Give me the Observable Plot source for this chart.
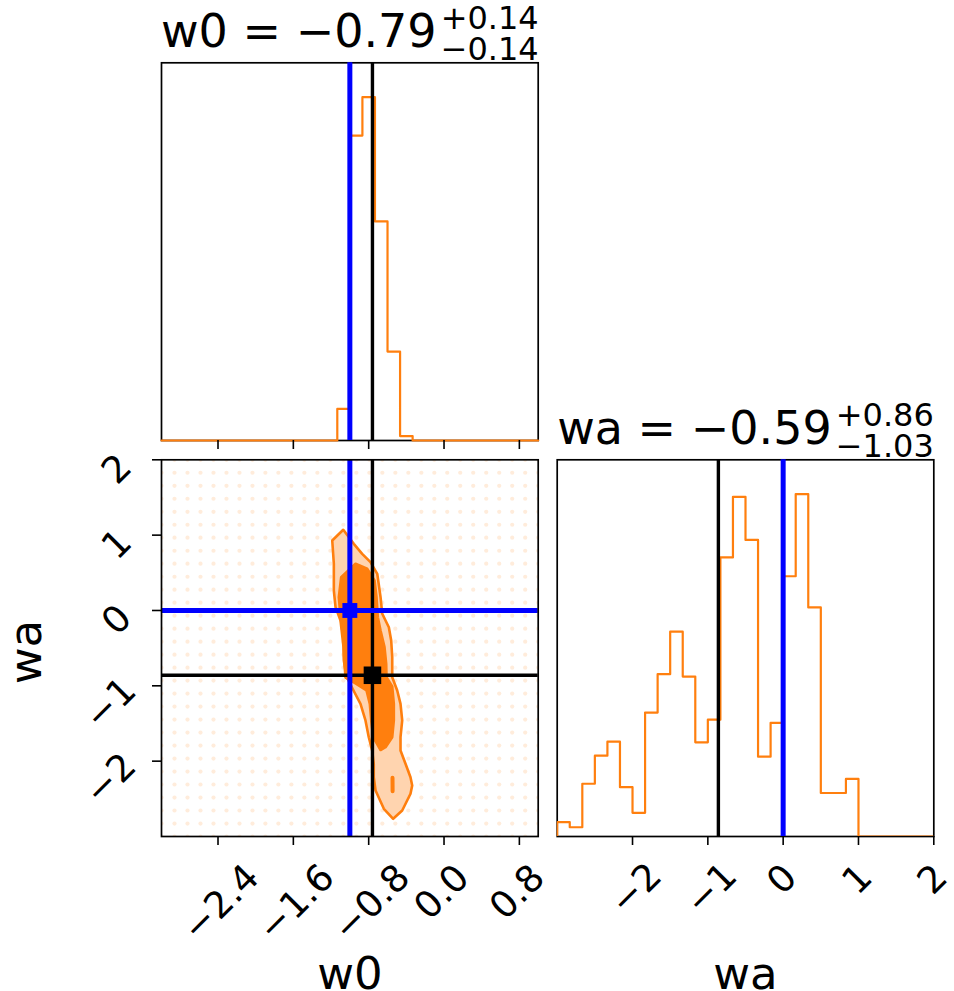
<!DOCTYPE html>
<html>
<head>
<meta charset="utf-8">
<script src="https://cdn.jsdelivr.net/npm/d3@7"></script>
<script src="https://cdn.jsdelivr.net/npm/@observablehq/plot@0.6"></script>
<style>
  body { margin: 0; background: #fff; }
  #chart { position: relative; width: 954px; height: 991px; overflow: hidden; background: #fff; }
  #chart svg { position: absolute; left: 0; top: 0; }
</style>
</head>
<body>
<div id="chart"></div>
<script>
// ---------------- data ----------------
const w0Ticks = [-2.4, -1.6, -0.8, 0.0, 0.8];
const w0TickLabels = ["−2.4", "−1.6", "−0.8", "0.0", "0.8"];
const waTicks = [-2, -1, 0, 1, 2];
const waTickLabels = ["−2", "−1", "0", "1", "2"];
const w0Range = [-3, 1];
const waRange = [-3, 2];
const binCount = 30;

// histogram heights (relative counts per bin)
const w0Counts = [0,0,0,0,0,0,0,0,0,0,0,0,0,0, 9.2, 88.8, 100, 63.8, 25.9, 1.3, 0,0,0,0,0,0,0,0,0,0];
const waCounts = [4.2, 2.7, 15.4, 23.6, 27.7, 14.4, 6.9, 36.2, 47.4, 59.8, 46.7, 27.5, 34.1, 81.5, 99.2,
                  86.6, 23.3, 33.2, 76.0, 100, 66.9, 12.7, 12.7, 16.8, 0, 0, 0, 0, 0, 0];

// sample grid (faint data points)
const gridW0 = [-3, -2.862, -2.724, -2.586, -2.448, -2.310, -2.172, -2.034, -1.897, -1.759, -1.621, -1.483, -1.345, -1.207, -1.069,
                -0.931, -0.793, -0.655, -0.517, -0.379, -0.241, -0.103, 0.034, 0.172, 0.310, 0.448, 0.586, 0.724, 0.862, 1.0];
const gridWa = [-3, -2.828, -2.655, -2.483, -2.310, -2.138, -1.966, -1.793, -1.621, -1.448, -1.276, -1.103, -0.931, -0.759, -0.586,
                -0.414, -0.241, -0.069, 0.103, 0.276, 0.448, 0.621, 0.793, 0.966, 1.138, 1.310, 1.483, 1.655, 1.828, 2.0];

// contour outlines
const outerW0 = [-1.070, -0.958, -0.869, -0.781, -0.709, -0.674, -0.656, -0.586, -0.561, -0.550, -0.550, -0.497, -0.462, -0.444,
                 -0.462, -0.462, -0.409, -0.356, -0.338, -0.356, -0.444, -0.540, -0.639, -0.727, -0.746, -0.746, -0.763, -0.799,
                 -0.834, -0.887, -0.961, -1.035, -1.064, -1.067, -1.099, -1.152, -1.170, -1.170, -1.187];
const outerWa = [1.071, 0.885, 0.752, 0.641, 0.487, 0.176, -0.044, -0.222, -0.398, -0.620, -0.886, -1.062, -1.239, -1.460,
                 -1.682, -1.858, -2.035, -2.213, -2.323, -2.433, -2.655, -2.765, -2.632, -2.389, -2.213, -2.035, -1.858, -1.682,
                 -1.460, -1.239, -1.062, -0.876, -0.664, -0.487, -0.133, 0.044, 0.265, 0.620, 0.929];
const innerW0 = [-0.940, -0.816, -0.738, -0.717, -0.703, -0.674, -0.632, -0.614, -0.611, -0.550, -0.533, -0.533, -0.550,
                 -0.621, -0.674, -0.752, -0.773, -0.788, -0.823, -0.940, -1.046, -1.057, -1.070, -1.099, -1.117, -1.092];
const innerWa = [0.620, 0.553, 0.398, 0.176, -0.089, -0.266, -0.487, -0.708, -0.886, -1.009, -1.239, -1.460, -1.682,
                 -1.815, -1.852, -1.682, -1.460, -1.239, -1.062, -0.969, -0.890, -0.708, -0.355, -0.089, 0.176, 0.442];
const islandW0 = [-0.547, -0.546];
const islandWa = [-2.22, -2.40];

// truth values [w0, wa]
const truthBlue = [-1.0, 0.0];
const truthBlack = [-0.76, -0.86];

// texts
const titleW0 = ["w0 = −0.79", "+0.14", "−0.14"];
const titleWa = ["wa = −0.59", "+0.86", "−1.03"];
const axisNames = ["w0", "wa"];

// ---------------- helpers ----------------
const orange = "#ff7f0e";
const lightOrange = "#ffd4af";
const W = 954, H = 991;
const FA = {l: 161, r: 537.7, t: 62.3, b: 440};
const FB = {l: 161, r: 537.7, t: 459.3, b: 836};
const FC = {l: 556.7, r: 933.3, t: 459.3, b: 836};
const FONT = "'DejaVu Sans', 'Liberation Sans', sans-serif";
const TICKFS = 37;

const base = (f) => ({
  width: W, height: H,
  marginLeft: f.l, marginRight: W - f.r, marginTop: f.t, marginBottom: H - f.b,
  style: {background: "transparent", fontFamily: FONT, color: "black", overflow: "visible"}
});

function edges(range) {
  return d3.range(binCount + 1).map(i => range[0] + i * (range[1] - range[0]) / binCount);
}
function stepPoints(e, counts) {
  const pts = [{x: e[0], y: 0}];
  counts.forEach((c, i) => pts.push({x: e[i], y: c}));
  pts.push({x: e[counts.length], y: counts[counts.length - 1]});
  pts.push({x: e[counts.length], y: 0});
  return pts;
}
const zipXY = (xs, ys) => xs.map((x, i) => ({x, y: ys[i]}));

const ctx = document.createElement("canvas").getContext("2d");
function tw(s, size) { ctx.font = `${size}px "DejaVu Sans"`; return ctx.measureText(s).width; }

function titleMarks([main, sup, sub], f) {
  const mw = tw(main, 46), sw = Math.max(tw(sup, 32), tw(sub, 32));
  const gap = 4;
  const x0 = (f.l + f.r) / 2 - (mw + gap + sw) / 2;
  const common = {frameAnchor: "top-left", textAnchor: "start", lineAnchor: "bottom", fill: "black", text: d => d};
  return [
    Plot.text([main], {...common, dx: x0 - f.l, dy: -15.8, fontSize: 46}),
    Plot.text([sup], {...common, dx: x0 - f.l + mw + gap, dy: -33.5, fontSize: 32}),
    Plot.text([sub], {...common, dx: x0 - f.l + mw + gap, dy: -3, fontSize: 32})
  ];
}

const tickMarksX = (ticks) => Plot.axisX(ticks, {anchor: "bottom", tickSize: 9, tickFormat: () => "", strokeWidth: 1.6, label: null});
const tickMarksY = (ticks) => Plot.axisY(ticks, {anchor: "left", tickSize: 9, tickFormat: () => "", strokeWidth: 1.6, label: null});
const xLabels = (ticks, labels, subset, dx, dy) => Plot.axisX(subset, {
  anchor: "bottom", tickSize: 0, tickPadding: 0, tickRotate: -45, textAnchor: "middle", lineAnchor: "middle",
  dx, dy, fontSize: TICKFS, tickFormat: d => labels[ticks.indexOf(d)], label: null
});
const yLabels = (ticks, labels, subset, dx, dy) => Plot.axisY(subset, {
  anchor: "left", tickSize: 0, tickPadding: 0, tickRotate: -45, textAnchor: "middle", lineAnchor: "middle",
  dx, dy, fontSize: TICKFS, tickFormat: d => labels[ticks.indexOf(d)], label: null
});

const BLACKW = 3.4, BLUEW = 5, HISTW = 2.2, FRAMEW = 1.7;

// ---------------- panel A: w0 histogram ----------------
const plotA = Plot.plot({
  ...base(FA),
  x: {domain: w0Range},
  y: {domain: [0, 1.1 * d3.max(w0Counts)], axis: null},
  marks: [
    Plot.frame({stroke: "black", strokeWidth: FRAMEW}),
    Plot.line(stepPoints(edges(w0Range), w0Counts), {x: "x", y: "y", curve: "step-after", stroke: orange, strokeWidth: HISTW}),
    Plot.ruleX([truthBlack[0]], {stroke: "black", strokeWidth: BLACKW}),
    Plot.ruleX([truthBlue[0]], {stroke: "blue", strokeWidth: BLUEW}),
    tickMarksX(w0Ticks),
    ...titleMarks(titleW0, FA)
  ]
});

// ---------------- panel B: 2D contour ----------------
const gridPts = gridW0.flatMap(x => gridWa.map(y => ({x, y})));
const plotB = Plot.plot({
  ...base(FB),
  x: {domain: w0Range},
  y: {domain: waRange},
  marks: [
    Plot.dot(gridPts, {x: "x", y: "y", r: 2.1, fill: orange, fillOpacity: 0.15, stroke: null, clip: true}),
    Plot.line(zipXY(outerW0, outerWa), {x: "x", y: "y", curve: "linear-closed", fill: lightOrange, stroke: orange, strokeWidth: 2.6}),
    Plot.line(zipXY(innerW0, innerWa), {x: "x", y: "y", curve: "linear-closed", fill: orange, stroke: orange, strokeWidth: 2.6}),
    Plot.line(zipXY(islandW0, islandWa), {x: "x", y: "y", stroke: orange, strokeWidth: 4, strokeLinecap: "round"}),
    Plot.ruleX([truthBlack[0]], {stroke: "black", strokeWidth: BLACKW}),
    Plot.ruleY([truthBlack[1]], {stroke: "black", strokeWidth: BLACKW}),
    Plot.ruleX([truthBlue[0]], {stroke: "blue", strokeWidth: BLUEW}),
    Plot.ruleY([truthBlue[1]], {stroke: "blue", strokeWidth: BLUEW}),
    Plot.dot([truthBlack], {x: d => d[0], y: d => d[1], symbol: "square", r: 9.9, fill: "black", stroke: null}),
    Plot.dot([truthBlue], {x: d => d[0], y: d => d[1], symbol: "square", r: 8.4, fill: "blue", stroke: null}),
    Plot.frame({stroke: "black", strokeWidth: FRAMEW}),
    tickMarksX(w0Ticks),
    tickMarksY(waTicks),
    xLabels(w0Ticks, w0TickLabels, w0Ticks.filter(d => d < 0), 3, 66.5),
    xLabels(w0Ticks, w0TickLabels, w0Ticks.filter(d => d >= 0), -2, 55.7),
    yLabels(waTicks, waTickLabels, waTicks.filter(d => d >= 0), -44.5, 9.5),
    yLabels(waTicks, waTickLabels, waTicks.filter(d => d < 0), -51, 18),
    Plot.text([axisNames[0]], {frameAnchor: "bottom", textAnchor: "middle", lineAnchor: "bottom", dy: 152, fontSize: 45, fill: "black", text: d => d}),
    Plot.text([axisNames[1]], {frameAnchor: "left", rotate: -90, textAnchor: "middle", lineAnchor: "bottom", dx: -121, dy: 4, fontSize: 45, fill: "black", text: d => d})
  ]
});

// ---------------- panel C: wa histogram ----------------
const plotC = Plot.plot({
  ...base(FC),
  x: {domain: waRange},
  y: {domain: [0, 1.1 * d3.max(waCounts)], axis: null},
  marks: [
    Plot.frame({stroke: "black", strokeWidth: FRAMEW}),
    Plot.line(stepPoints(edges(waRange), waCounts), {x: "x", y: "y", curve: "step-after", stroke: orange, strokeWidth: HISTW, clip: true}),
    Plot.ruleX([truthBlack[1]], {stroke: "black", strokeWidth: BLACKW}),
    Plot.ruleX([truthBlue[1]], {stroke: "blue", strokeWidth: BLUEW}),
    tickMarksX(waTicks),
    xLabels(waTicks, waTickLabels, waTicks.filter(d => d < 0), 3.5, 52.5),
    xLabels(waTicks, waTickLabels, waTicks.filter(d => d >= 0), -1, 43),
    Plot.text([axisNames[1]], {frameAnchor: "bottom", textAnchor: "middle", lineAnchor: "bottom", dy: 152, fontSize: 45, fill: "black", text: d => d}),
    ...titleMarks(titleWa, FC)
  ]
});

document.getElementById("chart").append(plotB, plotC, plotA);
</script>
</body>
</html>
